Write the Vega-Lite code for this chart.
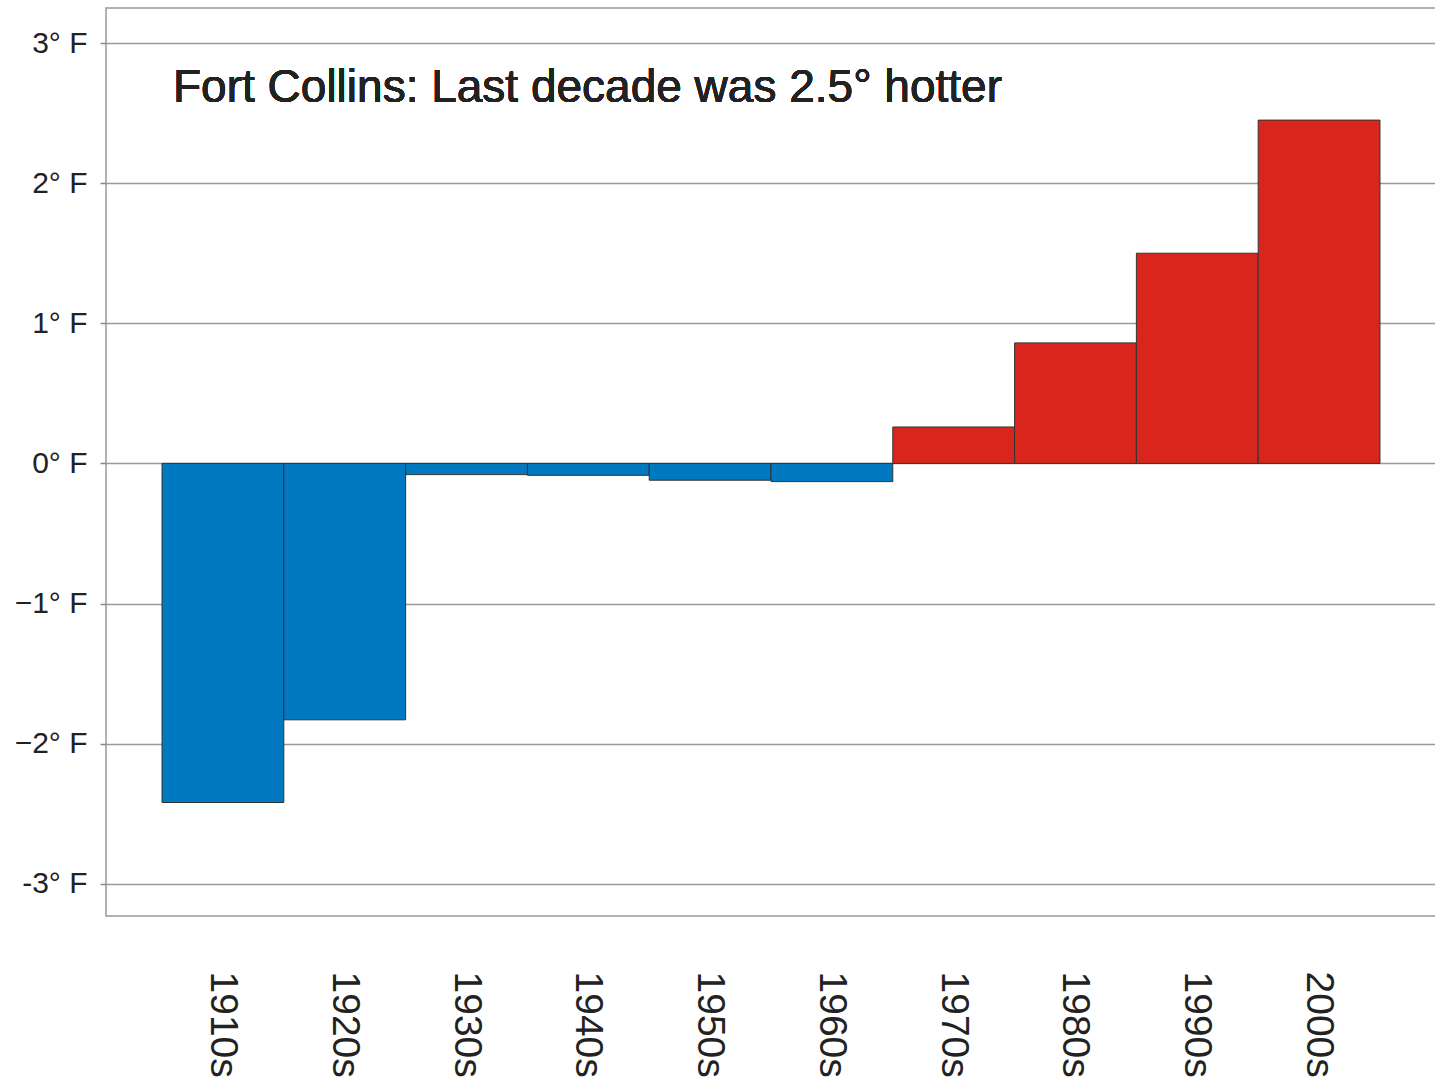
{
  "$schema": "https://vega.github.io/schema/vega-lite/v6.json",
  "width": 1330,
  "height": 908,
  "autosize": {"type": "none"},
  "padding": {"left": 106, "top": 8, "right": 0, "bottom": 166},
  "background": "white",
  "config": {
    "view": {"stroke": "#999999", "strokeWidth": 1.5},
    "font": "Liberation Sans"
  },
  "data": {
    "values": [
      {"decade": "1910s", "value": -2.42},
      {"decade": "1920s", "value": -1.83},
      {"decade": "1930s", "value": -0.08},
      {"decade": "1940s", "value": -0.085},
      {"decade": "1950s", "value": -0.12},
      {"decade": "1960s", "value": -0.13},
      {"decade": "1970s", "value": 0.26},
      {"decade": "1980s", "value": 0.86},
      {"decade": "1990s", "value": 1.5},
      {"decade": "2000s", "value": 2.45}
    ]
  },
  "layer": [
    {
      "mark": {"type": "bar", "stroke": "#333333", "strokeWidth": 1},
      "encoding": {
        "x": {
          "field": "decade",
          "type": "ordinal",
          "scale": {"paddingInner": 0, "paddingOuter": 0.46},
          "axis": {
            "title": null,
            "labelAngle": 90,
            "labelAlign": "left",
            "labelBaseline": "middle",
            "labelFontSize": 39,
            "labelColor": "#222222",
            "labelPadding": 55,
            "ticks": false,
            "domain": false,
            "grid": false
          }
        },
        "y": {
          "field": "value",
          "type": "quantitative",
          "scale": {"domain": [-3.23, 3.25], "nice": false, "zero": false},
          "axis": {
            "title": null,
            "values": [-3, -2, -1, 0, 1, 2, 3],
            "labelExpr": "datum.value == -3 ? '-3° F' : (datum.value < 0 ? '\u2212' + abs(datum.value) + '° F' : datum.value + '° F')",
            "labelFontSize": 30,
            "labelColor": "#222222",
            "labelPadding": 13,
            "tickSize": 6,
            "tickColor": "#888888",
            "tickWidth": 1.5,
            "domain": false,
            "grid": true,
            "gridColor": "#999999",
            "gridWidth": 1.5,
            "gridOpacity": 1
          }
        },
        "color": {
          "condition": {"test": "datum.value < 0", "value": "#0079c1"},
          "value": "#d9261c"
        }
      }
    },
    {
      "mark": {
        "type": "text",
        "text": "Fort Collins: Last decade was 2.5° hotter",
        "align": "left",
        "baseline": "middle",
        "fontSize": 46,
        "dx": 11,
        "color": "#222222"
      },
      "encoding": {
        "x": {"datum": "1910s", "type": "ordinal", "bandPosition": 0},
        "y": {"datum": 2.68, "type": "quantitative"}
      }
    }
  ]
}
